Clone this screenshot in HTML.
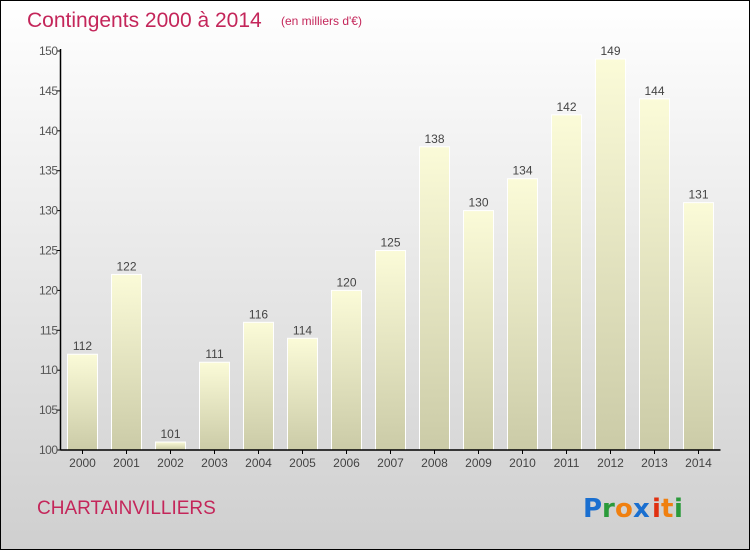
<!DOCTYPE html>
<html><head><meta charset="utf-8"><style>
body{margin:0}
#c{position:relative;width:748px;height:548px;border:1px solid #000;background:linear-gradient(#fff,#cfcfcf);font-family:"Liberation Sans",sans-serif;overflow:hidden}
</style></head><body>
<div id="c">
<svg width="748" height="548" style="position:absolute;left:0;top:0" id="svg">
<defs><linearGradient id="bg" x1="0" y1="0" x2="0" y2="1"><stop offset="0" stop-color="#fbfbd8"/><stop offset="1" stop-color="#cbcba7"/></linearGradient></defs>
<text x="26" y="26" font-size="21" fill="#c4265a">Contingents 2000 à 2014</text>
<text x="280" y="24" font-size="12" fill="#c4265a">(en milliers d'€)</text>
<text x="36" y="513" font-size="19" fill="#c4265a">CHARTAINVILLIERS</text>
<g font-size="26" font-family="'DejaVu Sans',sans-serif" font-weight="bold">
<text x="582" y="516" fill="#1a6fd0">P</text><text x="601" y="516" fill="#2a9a3a">r</text><text x="614" y="516" fill="#f08010">o</text><text x="632" y="516" fill="#1a6fd0">x</text><text x="651" y="516" fill="#e03010">i</text><text x="660" y="516" fill="#f08010">t</text><text x="673" y="516" fill="#2a9a3a">i</text></g>
</svg>
</div>
<script>
const years=["2000","2001","2002","2003","2004","2005","2006","2007","2008","2009","2010","2011","2012","2013","2014"];
const values=[112,122,101,111,116,114,120,125,138,130,134,142,149,144,131];
const yTicks=[100,105,110,115,120,125,130,135,140,145,150];
const svg=document.getElementById('svg');const NS="http://www.w3.org/2000/svg";
const x0=59.5,band=44,yMin=100,yMax=150,yTop=50,yBot=449;
const yS=v=>yBot-(v-yMin)/(yMax-yMin)*(yBot-yTop);
function mk(t,a,txt){const e=document.createElementNS(NS,t);for(const k in a)e.setAttribute(k,a[k]);if(txt!==undefined)e.textContent=txt;svg.appendChild(e);return e;}
values.forEach((v,i)=>{const cx=x0+band*(i+0.5);
const r=mk('rect',{x:cx-15,y:yS(v),width:30,height:yBot-yS(v),fill:'url(#bg)',stroke:'#fff','stroke-width':1});


const t=mk('text',{x:cx,y:yS(v)-4,'text-anchor':'middle','font-size':12,fill:'#444'},v);


const xl=mk('text',{x:cx,y:466,'text-anchor':'middle','font-size':12,fill:'#444'},years[i]);


const tk=mk('line',{x1:cx,x2:cx,y1:yBot,y2:yBot+4,stroke:'#000'});


});
yTicks.forEach(v=>{const y=yS(v);
const l=mk('line',{x1:x0-4,x2:x0,y1:y,y2:y,stroke:'#000'});


const t=mk('text',{x:x0-3,y:y+4,'text-anchor':'end','font-size':12,fill:'#555','letter-spacing':'-0.5'},v);

});
const ya=mk('line',{x1:x0,x2:x0,y1:yTop-2,y2:yBot,stroke:'#000','stroke-width':1.5});


const xa=mk('line',{x1:x0,x2:x0+band*15,y1:yBot,y2:yBot,stroke:'#000','stroke-width':1.5});


</script>
</body></html>
